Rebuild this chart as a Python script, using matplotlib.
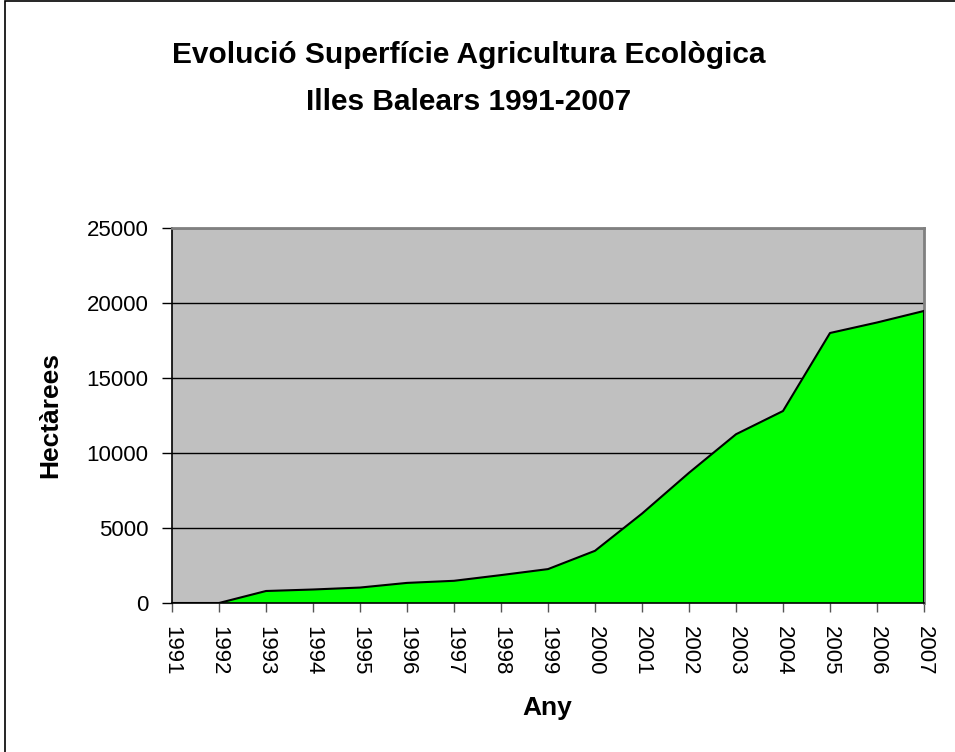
import matplotlib
matplotlib.use("Agg")
import matplotlib.pyplot as plt
from matplotlib.patches import Rectangle

years = ["1991", "1992", "1993", "1994", "1995", "1996", "1997", "1998", "1999",
         "2000", "2001", "2002", "2003", "2004", "2005", "2006", "2007"]
hectares = [0, 0, 800, 900, 1030, 1340, 1480, 1860, 2260,
            3480, 5960, 8680, 11250, 12800, 18000, 18700, 19470]
yticks = [0, 5000, 10000, 15000, 20000, 25000]

plt.rcParams['font.family'] = ['Liberation Sans', 'DejaVu Sans']

fig = plt.figure(figsize=(9.55, 7.52), dpi=100)
fig.patches.append(Rectangle((5/955, -0.01), 2, 1.0 - 1/752 + 0.01, transform=fig.transFigure,
                             fill=False, edgecolor='black', linewidth=1.2))

ax = fig.add_axes([172/955, 149/752, 752/955, 375/752])
ax.set_facecolor('#C0C0C0')
x = list(range(len(years)))
ax.fill_between(x, hectares, 0, facecolor='#00FF00', edgecolor='none', zorder=2)
ax.plot(x, hectares, color='black', linewidth=1.5, zorder=3)
ax.plot([x[-1], x[-1]], [0, hectares[-1]], color='black', linewidth=1.5, zorder=3)

ax.set_xlim(0, len(years) - 1)
ax.set_ylim(0, 25000)
ax.set_yticks(yticks)
ax.set_yticklabels([str(v) for v in yticks], fontsize=16)
ax.set_xticks(x)
ax.set_xticklabels(years, rotation=-90, fontsize=16)
ax.yaxis.grid(True, color='black', linewidth=1.0, zorder=1)
ax.set_axisbelow(True)
ax.tick_params(axis='y', direction='out', length=7, width=1, color='black', pad=10)
ax.tick_params(axis='x', direction='out', length=6.5, width=1, colors='#555555',
               labelcolor='black', pad=10)

for s in ['left', 'bottom']:
    ax.spines[s].set_color('black')
    ax.spines[s].set_linewidth(1.2)
for s in ['top', 'right']:
    ax.spines[s].set_color('#808080')
    ax.spines[s].set_linewidth(2)
ax.spines['bottom'].set_zorder(4)

fig.text(547/955, 1 - 708/752, 'Any', ha='center', va='center', fontsize=19, fontweight='bold')
fig.text(50/955, 1 - 415/752, 'Hectàrees', ha='center', va='center', rotation=90,
         fontsize=19, fontweight='bold')

fig.text(469/955, 1 - 55/752, 'Evolució Superfície Agricultura Ecològica', ha='center', va='center',
         fontsize=21.5, fontweight='bold')
fig.text(469/955, 1 - 102/752, 'Illes Balears 1991-2007', ha='center', va='center',
         fontsize=21.5, fontweight='bold')

fig.savefig('out.png', dpi=100)
